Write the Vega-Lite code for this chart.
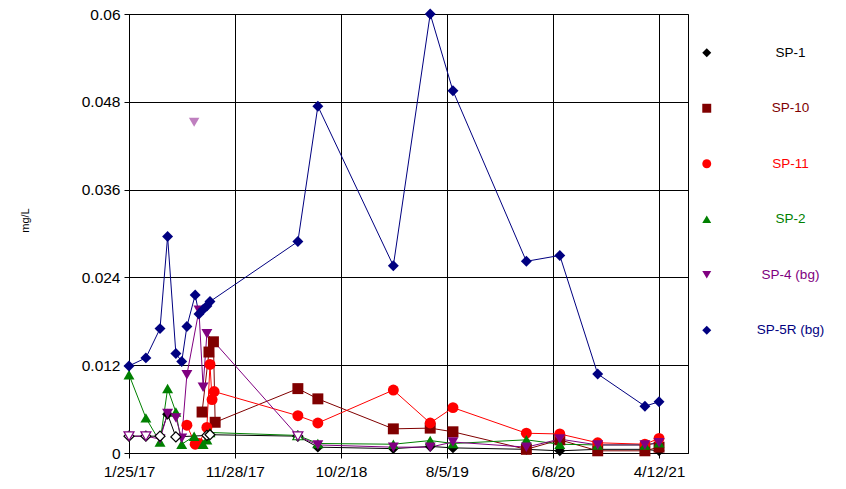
{
  "$schema": "https://vega.github.io/schema/vega-lite/v6.json",
  "width": 559,
  "height": 439,
  "autosize": {"type": "none"},
  "padding": {"left": 129, "top": 14, "right": 158, "bottom": 36},
  "background": "white",
  "config": {
    "view": {"stroke": "black", "strokeWidth": 1},
    "font": "Liberation Sans",
    "axis": {
      "gridColor": "black", "gridOpacity": 1, "gridWidth": 1,
      "domainColor": "black", "tickColor": "black", "tickSize": 5,
      "labelColor": "black", "labelFont": "Liberation Sans", "labelFontSize": 15.5,
      "titleFont": "Liberation Sans", "titleColor": "black", "titleFontWeight": "normal"
    }
  },
  "data": {
    "values": [
      {"series": "SP-1", "date": "2017-01-25", "conc": 0.0023, "flag": "ND"},
      {"series": "SP-1", "date": "2017-03-15", "conc": 0.0023, "flag": "ND"},
      {"series": "SP-1", "date": "2017-04-25", "conc": 0.0023, "flag": "ND"},
      {"series": "SP-1", "date": "2017-05-17", "conc": 0.0053, "flag": ""},
      {"series": "SP-1", "date": "2017-06-10", "conc": 0.0022, "flag": "ND"},
      {"series": "SP-1", "date": "2017-09-08", "conc": 0.0024, "flag": "ND"},
      {"series": "SP-1", "date": "2017-09-17", "conc": 0.0025, "flag": "ND"},
      {"series": "SP-1", "date": "2018-05-30", "conc": 0.0023, "flag": "ND"},
      {"series": "SP-1", "date": "2018-07-27", "conc": 0.0008, "flag": ""},
      {"series": "SP-1", "date": "2019-03-03", "conc": 0.0006, "flag": ""},
      {"series": "SP-1", "date": "2019-06-18", "conc": 0.0009, "flag": ""},
      {"series": "SP-1", "date": "2019-08-23", "conc": 0.0007, "flag": ""},
      {"series": "SP-1", "date": "2020-03-23", "conc": 0.0005, "flag": ""},
      {"series": "SP-1", "date": "2020-06-28", "conc": 0.0003, "flag": ""},
      {"series": "SP-1", "date": "2020-10-16", "conc": 0.0005, "flag": ""},
      {"series": "SP-1", "date": "2021-03-02", "conc": 0.0005, "flag": ""},
      {"series": "SP-1", "date": "2021-04-12", "conc": 0.0003, "flag": ""},

      {"series": "SP-10", "date": "2017-08-25", "conc": 0.0056, "flag": ""},
      {"series": "SP-10", "date": "2017-09-14", "conc": 0.0138, "flag": ""},
      {"series": "SP-10", "date": "2017-09-27", "conc": 0.0152, "flag": ""},
      {"series": "SP-10", "date": "2017-10-02", "conc": 0.0042, "flag": ""},
      {"series": "SP-10", "date": "2018-05-30", "conc": 0.0088, "flag": ""},
      {"series": "SP-10", "date": "2018-07-27", "conc": 0.0074, "flag": ""},
      {"series": "SP-10", "date": "2019-03-03", "conc": 0.0033, "flag": ""},
      {"series": "SP-10", "date": "2019-06-18", "conc": 0.0034, "flag": ""},
      {"series": "SP-10", "date": "2019-08-23", "conc": 0.0029, "flag": ""},
      {"series": "SP-10", "date": "2020-03-23", "conc": 0.0005, "flag": ""},
      {"series": "SP-10", "date": "2020-06-28", "conc": 0.0018, "flag": ""},
      {"series": "SP-10", "date": "2020-10-16", "conc": 0.0003, "flag": ""},
      {"series": "SP-10", "date": "2021-03-02", "conc": 0.0003, "flag": ""},
      {"series": "SP-10", "date": "2021-04-12", "conc": 0.0008, "flag": ""},

      {"series": "SP-11", "date": "2017-07-12", "conc": 0.0038, "flag": ""},
      {"series": "SP-11", "date": "2017-08-05", "conc": 0.0012, "flag": ""},
      {"series": "SP-11", "date": "2017-08-16", "conc": 0.0013, "flag": ""},
      {"series": "SP-11", "date": "2017-09-08", "conc": 0.0035, "flag": ""},
      {"series": "SP-11", "date": "2017-09-17", "conc": 0.0121, "flag": ""},
      {"series": "SP-11", "date": "2017-09-23", "conc": 0.0073, "flag": ""},
      {"series": "SP-11", "date": "2017-09-29", "conc": 0.0084, "flag": ""},
      {"series": "SP-11", "date": "2018-05-30", "conc": 0.0051, "flag": ""},
      {"series": "SP-11", "date": "2018-07-27", "conc": 0.0041, "flag": ""},
      {"series": "SP-11", "date": "2019-03-03", "conc": 0.0086, "flag": ""},
      {"series": "SP-11", "date": "2019-06-18", "conc": 0.0041, "flag": ""},
      {"series": "SP-11", "date": "2019-08-23", "conc": 0.0062, "flag": ""},
      {"series": "SP-11", "date": "2020-03-23", "conc": 0.0027, "flag": ""},
      {"series": "SP-11", "date": "2020-06-28", "conc": 0.0026, "flag": ""},
      {"series": "SP-11", "date": "2020-10-16", "conc": 0.0014, "flag": ""},
      {"series": "SP-11", "date": "2021-03-02", "conc": 0.0012, "flag": ""},
      {"series": "SP-11", "date": "2021-04-12", "conc": 0.0020, "flag": ""},

      {"series": "SP-2", "date": "2017-01-25", "conc": 0.0107, "flag": ""},
      {"series": "SP-2", "date": "2017-03-15", "conc": 0.0048, "flag": ""},
      {"series": "SP-2", "date": "2017-04-25", "conc": 0.0015, "flag": ""},
      {"series": "SP-2", "date": "2017-05-17", "conc": 0.0088, "flag": ""},
      {"series": "SP-2", "date": "2017-06-10", "conc": 0.0056, "flag": ""},
      {"series": "SP-2", "date": "2017-06-27", "conc": 0.0012, "flag": ""},
      {"series": "SP-2", "date": "2017-08-02", "conc": 0.0023, "flag": ""},
      {"series": "SP-2", "date": "2017-08-28", "conc": 0.0012, "flag": ""},
      {"series": "SP-2", "date": "2017-09-08", "conc": 0.0018, "flag": ""},
      {"series": "SP-2", "date": "2017-09-17", "conc": 0.0028, "flag": ""},
      {"series": "SP-2", "date": "2018-05-30", "conc": 0.0024, "flag": "ND"},
      {"series": "SP-2", "date": "2018-07-27", "conc": 0.0013, "flag": ""},
      {"series": "SP-2", "date": "2019-03-03", "conc": 0.0012, "flag": ""},
      {"series": "SP-2", "date": "2019-06-18", "conc": 0.0017, "flag": ""},
      {"series": "SP-2", "date": "2019-08-23", "conc": 0.0013, "flag": ""},
      {"series": "SP-2", "date": "2020-03-23", "conc": 0.0018, "flag": ""},
      {"series": "SP-2", "date": "2020-06-28", "conc": 0.0012, "flag": ""},
      {"series": "SP-2", "date": "2020-10-16", "conc": 0.0011, "flag": ""},
      {"series": "SP-2", "date": "2021-03-02", "conc": 0.0011, "flag": ""},
      {"series": "SP-2", "date": "2021-04-12", "conc": 0.0014, "flag": ""},

      {"series": "SP-4 (bg)", "date": "2017-01-25", "conc": 0.0023, "flag": "ND"},
      {"series": "SP-4 (bg)", "date": "2017-03-15", "conc": 0.0023, "flag": "ND"},
      {"series": "SP-4 (bg)", "date": "2017-04-25", "conc": 0.0019, "flag": ""},
      {"series": "SP-4 (bg)", "date": "2017-05-17", "conc": 0.0054, "flag": ""},
      {"series": "SP-4 (bg)", "date": "2017-06-10", "conc": 0.0048, "flag": ""},
      {"series": "SP-4 (bg)", "date": "2017-06-27", "conc": 0.0020, "flag": ""},
      {"series": "SP-4 (bg)", "date": "2017-07-12", "conc": 0.0107, "flag": ""},
      {"series": "SP-4 (bg)", "date": "2017-08-02", "conc": 0.0452, "flag": "outlier"},
      {"series": "SP-4 (bg)", "date": "2017-08-16", "conc": 0.0195, "flag": ""},
      {"series": "SP-4 (bg)", "date": "2017-08-28", "conc": 0.0090, "flag": ""},
      {"series": "SP-4 (bg)", "date": "2017-09-08", "conc": 0.0163, "flag": ""},
      {"series": "SP-4 (bg)", "date": "2018-05-30", "conc": 0.0023, "flag": "ND"},
      {"series": "SP-4 (bg)", "date": "2018-07-27", "conc": 0.0011, "flag": ""},
      {"series": "SP-4 (bg)", "date": "2019-03-03", "conc": 0.0008, "flag": ""},
      {"series": "SP-4 (bg)", "date": "2019-06-18", "conc": 0.0008, "flag": ""},
      {"series": "SP-4 (bg)", "date": "2019-08-23", "conc": 0.0015, "flag": ""},
      {"series": "SP-4 (bg)", "date": "2020-03-23", "conc": 0.0008, "flag": ""},
      {"series": "SP-4 (bg)", "date": "2020-06-28", "conc": 0.0019, "flag": ""},
      {"series": "SP-4 (bg)", "date": "2020-10-16", "conc": 0.0011, "flag": ""},
      {"series": "SP-4 (bg)", "date": "2021-03-02", "conc": 0.0011, "flag": ""},
      {"series": "SP-4 (bg)", "date": "2021-04-12", "conc": 0.0014, "flag": ""},

      {"series": "SP-5R (bg)", "date": "2017-01-25", "conc": 0.0119, "flag": ""},
      {"series": "SP-5R (bg)", "date": "2017-03-15", "conc": 0.0130, "flag": ""},
      {"series": "SP-5R (bg)", "date": "2017-04-25", "conc": 0.0170, "flag": ""},
      {"series": "SP-5R (bg)", "date": "2017-05-17", "conc": 0.0296, "flag": ""},
      {"series": "SP-5R (bg)", "date": "2017-06-10", "conc": 0.0136, "flag": ""},
      {"series": "SP-5R (bg)", "date": "2017-06-27", "conc": 0.0125, "flag": ""},
      {"series": "SP-5R (bg)", "date": "2017-07-12", "conc": 0.0173, "flag": ""},
      {"series": "SP-5R (bg)", "date": "2017-08-05", "conc": 0.0216, "flag": ""},
      {"series": "SP-5R (bg)", "date": "2017-08-16", "conc": 0.0190, "flag": ""},
      {"series": "SP-5R (bg)", "date": "2017-08-28", "conc": 0.0196, "flag": ""},
      {"series": "SP-5R (bg)", "date": "2017-09-08", "conc": 0.0201, "flag": ""},
      {"series": "SP-5R (bg)", "date": "2017-09-17", "conc": 0.0207, "flag": ""},
      {"series": "SP-5R (bg)", "date": "2018-05-30", "conc": 0.0289, "flag": ""},
      {"series": "SP-5R (bg)", "date": "2018-07-27", "conc": 0.0474, "flag": ""},
      {"series": "SP-5R (bg)", "date": "2019-03-03", "conc": 0.0256, "flag": ""},
      {"series": "SP-5R (bg)", "date": "2019-06-18", "conc": 0.0600, "flag": ""},
      {"series": "SP-5R (bg)", "date": "2019-08-23", "conc": 0.0495, "flag": ""},
      {"series": "SP-5R (bg)", "date": "2020-03-23", "conc": 0.0262, "flag": ""},
      {"series": "SP-5R (bg)", "date": "2020-06-28", "conc": 0.0270, "flag": ""},
      {"series": "SP-5R (bg)", "date": "2020-10-16", "conc": 0.0108, "flag": ""},
      {"series": "SP-5R (bg)", "date": "2021-03-02", "conc": 0.0064, "flag": ""},
      {"series": "SP-5R (bg)", "date": "2021-04-12", "conc": 0.0070, "flag": ""}
    ]
  },
  "encoding": {
    "x": {
      "field": "date", "type": "temporal",
      "scale": {"type": "utc", "domain": [{"year": 2017, "month": 1, "date": 25, "utc": true}, {"year": 2021, "month": 7, "date": 5, "utc": true}]},
      "axis": {
        "title": null,
        "values": [
          {"year": 2017, "month": 1, "date": 25, "utc": true},
          {"year": 2017, "month": 11, "date": 28, "utc": true},
          {"year": 2018, "month": 10, "date": 2, "utc": true},
          {"year": 2019, "month": 8, "date": 5, "utc": true},
          {"year": 2020, "month": 6, "date": 8, "utc": true},
          {"year": 2021, "month": 4, "date": 12, "utc": true}
        ],
        "labelExpr": "utcFormat(datum.value, '%-m/%-d/%y')",
        "labelPadding": 6,
        "labelFlush": false,
        "labelOverlap": false
      }
    },
    "y": {
      "field": "conc", "type": "quantitative",
      "scale": {"domain": [0, 0.06], "nice": false, "zero": true},
      "axis": {
        "title": "mg/L",
        "titleFontSize": 11,
        "titleX": -104,
        "titleY": 206,
        "titleAngle": -90,
        "titleBaseline": "middle",
        "titleAlign": "center",
        "values": [0, 0.012, 0.024, 0.036, 0.048, 0.06],
        "labelExpr": "datum.value == 0 ? '0' : format(datum.value, '.3~f')",
        "labelPadding": 4,
        "labelOverlap": false
      }
    },
    "color": {
      "field": "series", "type": "nominal",
      "scale": {
        "domain": ["SP-1", "SP-10", "SP-11", "SP-2", "SP-4 (bg)", "SP-5R (bg)"],
        "range": ["#000000", "#800000", "#FF0000", "#008000", "#800080", "#000080"]
      },
      "legend": {
        "title": null,
        "orient": "none",
        "legendX": 571,
        "legendY": 32,
        "padding": 0,
        "labelFont": "Liberation Sans",
        "labelFontSize": 13.5,
        "labelAlign": "center",
        "labelOffset": 77,
        "labelLimit": 300,
        "symbolSize": 80,
        "symbolStrokeWidth": 0,
        "rowPadding": 40.5,
        "encode": {
          "labels": {"update": {"fill": {"scale": "color", "field": "value"}}},
          "symbols": {"update": {"fill": {"scale": "color", "field": "value"}, "opacity": {"value": 1}, "strokeWidth": {"value": 0}}}
        }
      }
    }
  },
  "layer": [
    {
      "transform": [{"filter": "datum.flag != 'outlier'"}],
      "mark": {"type": "line", "strokeWidth": 1},
      "encoding": {"detail": {"field": "series"}}
    },
    {
      "transform": [{"filter": "datum.flag == ''"}],
      "mark": {"type": "point", "filled": true, "size": 120, "opacity": 1},
      "encoding": {
        "shape": {
          "field": "series", "type": "nominal",
          "scale": {
            "domain": ["SP-1", "SP-10", "SP-11", "SP-2", "SP-4 (bg)", "SP-5R (bg)"],
            "range": ["diamond", "square", "circle", "triangle-up", "triangle-down", "diamond"]
          }
        }
      }
    },
    {
      "transform": [{"filter": "datum.flag == 'ND'"}],
      "mark": {"type": "point", "filled": false, "fill": "white", "fillOpacity": 1, "size": 100, "strokeWidth": 1.2, "opacity": 1},
      "encoding": {
        "shape": {"field": "series", "type": "nominal"}
      }
    },
    {
      "transform": [{"filter": "datum.flag == 'outlier'"}],
      "mark": {"type": "point", "filled": true, "size": 110, "opacity": 0.5},
      "encoding": {
        "shape": {"field": "series", "type": "nominal"}
      }
    }
  ]
}
